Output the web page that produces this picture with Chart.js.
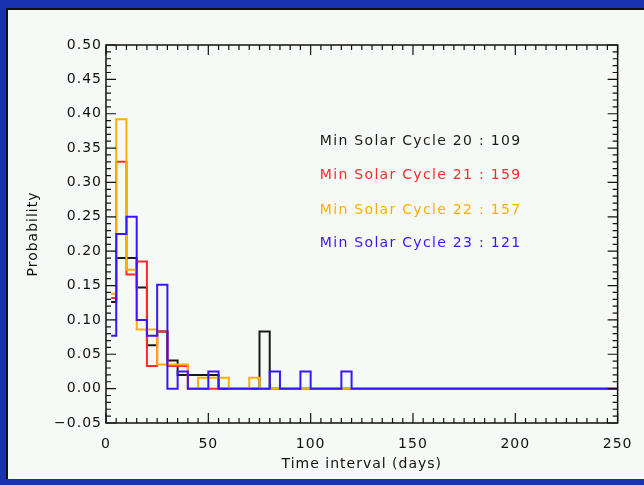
<!DOCTYPE html>
<html>
<head>
<meta charset="utf-8">
<title>Solar cycle minimum time intervals</title>
<script src="https://cdn.jsdelivr.net/npm/chart.js@4.4.1/dist/chart.umd.min.js"></script>
<style>
  html, body { margin: 0; padding: 0; }
  body { width: 644px; height: 485px; background: #1a32b2; position: relative; overflow: hidden; }
  .panel { position: absolute; left: 6px; top: 8px; right: 0; bottom: 6px; background: #f5faf6;
           border-left: 2px solid #111; border-top: 2px solid #111; }
  #chart { position: absolute; left: 0; top: 0; }
</style>
</head>
<body>
<div class="panel"></div>
<canvas id="chart" width="644" height="485"></canvas>
<script>
(function () {
  "use strict";

  // bin centres (5-day bins), last point closes the line at the axis end
  const binCenters = [2.5, 7.5, 12.5, 17.5, 22.5, 27.5, 32.5, 37.5, 42.5, 47.5, 52.5, 57.5, 62.5,
    67.5, 72.5, 77.5, 82.5, 87.5, 92.5, 97.5, 102.5, 107.5, 112.5, 117.5, 122.5, 250];

  const cycle20 = [0.126, 0.19, 0.19, 0.147, 0.063, 0.083, 0.041, 0.02, 0.02, 0.02, 0.02, 0, 0,
    0, 0, 0.083, 0, 0, 0, 0, 0, 0, 0, 0, 0, 0];
  const cycle21 = [0.132, 0.33, 0.166, 0.185, 0.033, 0.083, 0.033, 0.033, 0, 0, 0, 0, 0,
    0, 0, 0, 0, 0, 0, 0, 0, 0, 0, 0, 0, 0];
  const cycle22 = [0.138, 0.392, 0.173, 0.086, 0.086, 0.035, 0.035, 0.035, 0, 0.016, 0.016, 0.016, 0,
    0, 0.016, 0, 0, 0, 0, 0, 0, 0, 0, 0, 0, 0];
  const cycle23 = [0.077, 0.225, 0.25, 0.10, 0.077, 0.151, 0, 0.025, 0, 0, 0.025, 0, 0,
    0, 0, 0, 0.025, 0, 0, 0.025, 0, 0, 0, 0.025, 0, 0];

  const seriesLabels = ["Min Solar Cycle 20 : 109", "Min Solar Cycle 21 : 159",
    "Min Solar Cycle 22 : 157", "Min Solar Cycle 23 : 121"];
  const seriesColors = ["#1a1a1a", "#ff2a2a", "#ffae00", "#3c14ff"];

  const FONT = "'DejaVu Sans', sans-serif";
  const pts = (vals) => vals.map((v, i) => ({ x: binCenters[i], y: v }));

  /* ---------- box frame with inward ticks + annotation text ---------- */
  const boxAxes = {
    id: "boxAxes",
    beforeDraw(chart) {
      // wider spacing for all axis text (vector-font look)
      chart.ctx.letterSpacing = "1px";
    },
    afterDraw(chart, args, opts) {
      const { ctx, chartArea: a, scales: { x, y } } = chart;
      ctx.save();
      ctx.strokeStyle = "#111";
      ctx.lineWidth = 1.5;
      ctx.strokeRect(a.left, a.top, a.right - a.left, a.bottom - a.top);
      ctx.lineWidth = 1.2;
      ctx.beginPath();
      for (let v = x.min; v <= x.max + 1e-9; v += opts.xMinor) {
        const px = x.getPixelForValue(v);
        const len = Math.abs(v % 50) < 1e-6 ? 10 : 5;
        ctx.moveTo(px, a.bottom); ctx.lineTo(px, a.bottom - len);
        ctx.moveTo(px, a.top); ctx.lineTo(px, a.top + len);
      }
      for (let i = 0; i <= Math.round((y.max - y.min) / opts.yMinor); i++) {
        const v = y.min + i * opts.yMinor;
        const py = y.getPixelForValue(v);
        const len = i % 5 === 0 ? 10 : 5;
        ctx.moveTo(a.left, py); ctx.lineTo(a.left + len, py);
        ctx.moveTo(a.right, py); ctx.lineTo(a.right - len, py);
      }
      ctx.stroke();

      ctx.font = "14px " + FONT;
      ctx.letterSpacing = "1.3px";
      ctx.textBaseline = "middle";
      ctx.textAlign = "left";
      seriesLabels.forEach((t, i) => {
        ctx.fillStyle = seriesColors[i];
        ctx.fillText(t, x.getPixelForValue(opts.textX), y.getPixelForValue(opts.textY[i]));
      });
      ctx.restore();
    }
  };

  const datasets = [cycle20, cycle21, cycle22, cycle23].map((vals, i) => ({
    label: seriesLabels[i],
    data: pts(vals),
    borderColor: seriesColors[i],
    backgroundColor: seriesColors[i],
    borderWidth: 2,
    pointRadius: 0,
    stepped: "middle",
    fill: false,
    order: 3 - i
  }));

  new Chart(document.getElementById("chart"), {
    type: "line",
    data: { datasets },
    plugins: [boxAxes],
    options: {
      responsive: false,
      animation: false,
      layout: { padding: { top: 45, right: 21, left: 0, bottom: 0 } },
      plugins: {
        legend: { display: false },
        tooltip: { enabled: false },
        boxAxes: { xMinor: 5, yMinor: 0.01, textX: 104.5, textY: [0.36, 0.31, 0.26, 0.212] }
      },
      scales: {
        x: {
          type: "linear", min: 0, max: 250,
          grid: { display: false, drawTicks: false },
          border: { display: false },
          ticks: { stepSize: 50, padding: 13, color: "#111", font: { family: FONT, size: 14 } },
          title: { display: true, text: "Time interval (days)", color: "#111", padding: { top: 0, bottom: 12 },
                   font: { family: FONT, size: 14 } },
          afterFit: (s) => { s.height = 62; }
        },
        y: {
          min: -0.05, max: 0.5,
          grid: { display: false, drawTicks: false },
          border: { display: false },
          ticks: {
            stepSize: 0.05, padding: 4, color: "#111", font: { family: FONT, size: 14 },
            callback: (v) => v.toFixed(2).replace("-", "\u2212")
          },
          title: { display: true, text: "Probability", color: "#111", padding: { top: 25, bottom: 0 },
                   font: { family: FONT, size: 14 } },
          afterFit: (s) => { s.width = 106; }
        }
      }
    }
  });
})();
</script>
</body>
</html>
